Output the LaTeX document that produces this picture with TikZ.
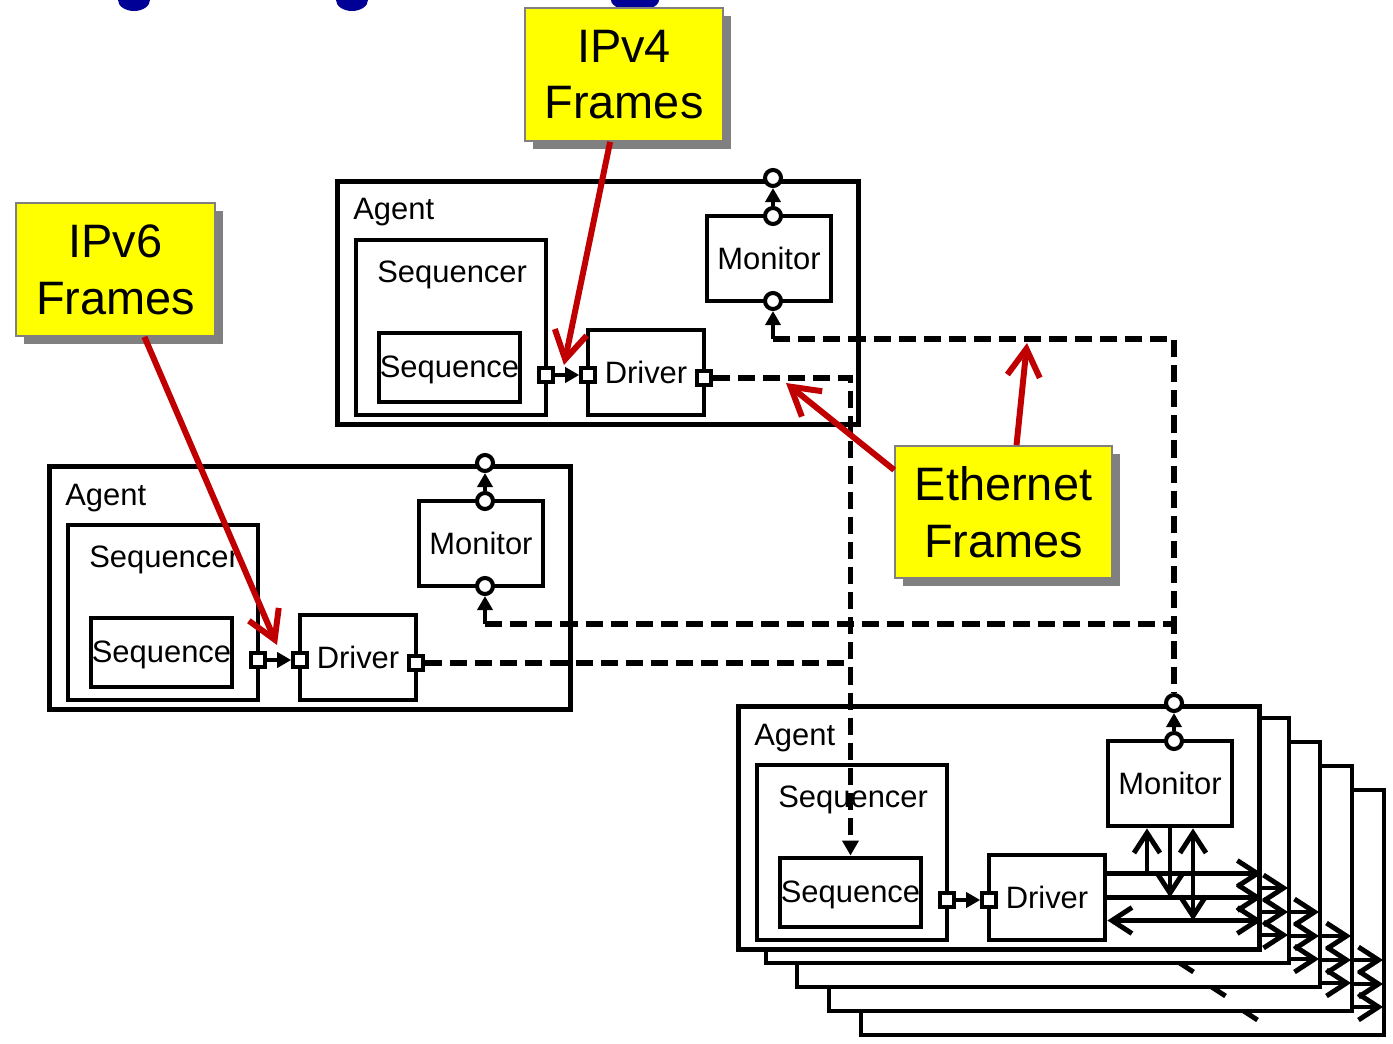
\documentclass[tikz,border=0pt]{standalone}
\usepackage{fontspec}
\setmainfont{Liberation Sans}
\usetikzlibrary{arrows.meta,shadows,calc}

\definecolor{hiyellow}{RGB}{255,255,0}
\definecolor{hired}{RGB}{192,0,0}
\definecolor{titleblue}{RGB}{0,0,150}

\tikzset{
  blk/.style={draw,line width=2.8pt,fill=white,inner sep=0pt},
  lbl/.style={font=\fontsize{17.6}{20}\selectfont,inner sep=0pt},
  port/.style={draw,line width=2.3pt,fill=white,minimum size=0.27cm,inner sep=0pt},
  pin/.style={circle,draw,line width=2.3pt,fill=white,minimum size=0.32cm,inner sep=0pt},
  tlm/.style={line width=2.8pt,-{Triangle[length=0.28cm,width=0.3cm]}},
  bus/.style={line width=2.9pt,dash pattern=on 9.8pt off 4.5pt},
  wire/.style={line width=2.8pt},
  note/.style={draw=gray,line width=1pt,fill=hiyellow,align=center,inner sep=0pt,
    font=\fontsize{26.7}{32.3}\selectfont,
    drop shadow={shadow xshift=0.16cm,shadow yshift=-0.16cm,fill=gray,opacity=1}},
  callout/.style={draw=hired,line width=3.4pt,-{Straight Barb[length=0.55cm,width=0.65cm]}},
  >={Straight Barb[length=0.4cm,width=0.52cm]},
}

\begin{document}
\begin{tikzpicture}[x=0.02cm,y=-0.02cm]
\useasboundingbox (0,0) rectangle (1393,1044);
\clip (0,0) rectangle (1393,1044);

% cut off title
\fill[titleblue] (134,0) ellipse [x radius=0.32cm,y radius=0.22cm];
\fill[titleblue] (352,0) ellipse [x radius=0.32cm,y radius=0.22cm];
\fill[titleblue] (635,0) ellipse [x radius=0.48cm,y radius=0.22cm];

% stacked copies behind the third agent
\foreach \dx/\dy in {126/87,94/63,62/39,31/15}{
  \draw[wire,fill=white] (735+\dx,703+\dy) rectangle +(523,245);
  \draw[wire,->] (1105+\dx,873+\dy) -- (1257+\dx,873+\dy);
  \draw[wire,->] (1105+\dx,897+\dy) -- (1257+\dx,897+\dy);
  \draw[wire,<->] (1107+\dx,920+\dy) -- (1257+\dx,920+\dy);
}

% agents
\foreach \i/\ax/\ay in {3/735/703,2/46/463,1/334/178}{
  \begin{scope}[shift={(\ax,\ay)}]
    \node[blk,minimum width=10.42cm,minimum height=4.86cm,anchor=north west] (ag\i) at (1,1) {};
    \node[lbl,anchor=base west] at (19,42) {Agent};
    \node[blk,minimum width=3.8cm,minimum height=3.5cm] (sqr\i) at (117,149.5) {};
    \node[lbl,anchor=base west] at (43,104) {Sequencer};
    \node[blk,lbl,text height=1.1em,text depth=0pt,minimum width=2.82cm,minimum height=1.38cm] (sq\i) at (115.5,189.5) {Sequence};
    \node[blk,lbl,minimum width=2.32cm,minimum height=1.7cm] (drv\i) at (312,194.5) {Driver};
    \node[port] (sp\i) at (212,197) {};
    \node[port] (dp\i) at (254,197) {};
    \node[blk,lbl,minimum width=2.48cm,minimum height=1.7cm] (mon\i) at (435,80.5) {Monitor};
    \node[pin] (mtop\i) at (439,38) {};
    \node[pin] (mout\i) at (439,0) {};
    \draw[tlm] (sp\i) -- (dp\i);
    \draw[tlm] (mtop\i) -- (mout\i);
    \ifnum\i<3
      \node[port] (dout\i) at (370,200) {};
      \node[pin] (mbot\i) at (439,123) {};
      \coordinate (mtap\i) at (439,161);
      \draw[tlm] (mtap\i) -- (mbot\i);
    \fi
  \end{scope}
}

% third agent: driver to monitor and out
\coordinate (req) at ($(drv3.east)+(0,-24)$);
\coordinate (rsp) at (drv3.east);
\coordinate (ack) at ($(drv3.east)+(0,23)$);
\coordinate (ma) at ($(mon3.south)+(-23,0)$);
\coordinate (mb) at ($(mon3.south)+(23,0)$);
\draw[wire,->] (req) -- (req -| ag3.east);
\draw[wire,->] (rsp) -- (rsp -| ag3.east);
\draw[wire,<->] (ack) -- (ack -| ag3.east);
\draw[wire,->] (ma |- req) -- (ma);
\draw[wire,->] (mon3.south) -- (mon3.south |- rsp);
\draw[wire,<->] (mb |- ack) -- (mb);

% frame buses
\draw[bus] (dout2) -- (dout2 -| sq3.north);
\draw[bus] (mtap2) -- (mtap2 -| mout3);
\draw[bus] (mtap1) -| (mout3);
\draw[bus,-{Triangle[length=0.3cm,width=0.32cm]}] (dout1) -| (sq3.north);

% notes
\node[note,minimum width=3.96cm,minimum height=2.66cm] (ipv4) at (624,74.5) {IPv4\\Frames};
\node[note,minimum width=3.98cm,minimum height=2.66cm] (ipv6) at (115.5,269.5) {IPv6\\Frames};
\node[note,minimum width=4.34cm,minimum height=2.64cm] (eth) at (1003.5,512) {Ethernet\\Frames};

\coordinate (hit4) at (564,365);
\coordinate (hit6) at (277,645);
\coordinate (hitd) at (786,383);
\coordinate (hitm) at (1027,343);
\draw[callout] (ipv4) -- (hit4);
\draw[callout] (ipv6) -- (hit6);
\draw[callout] ($(eth.west)+(0,-42)$) -- (hitd);
\draw[callout] ($(eth.north)+(13,0)$) -- (hitm);
\end{tikzpicture}
\end{document}
